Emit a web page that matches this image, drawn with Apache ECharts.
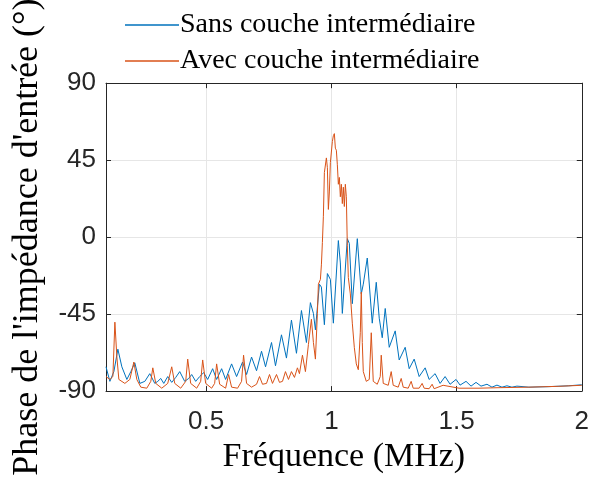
<!DOCTYPE html>
<html>
<head>
<meta charset="utf-8">
<script src="https://cdn.jsdelivr.net/npm/echarts@6/dist/echarts.min.js"></script>
<style>
html,body{margin:0;padding:0;background:#fff;}
#c{width:592px;height:479px;}
</style>
</head>
<body>
<div id="c"></div>
<script>
// Series names
const seriesNames = ['Sans couche intermédiaire', 'Avec couche intermédiaire'];
// Axis ticks
const xTicks = [0.5, 1, 1.5, 2];
const yTicks = [-90, -45, 0, 45, 90];

// Sans couche intermédiaire: frequency (MHz)
const blueFreq = [0.100,0.1155,0.1315,0.1474,0.1633,0.1833,0.1992,0.2151,0.2351,0.2550,0.2749,0.2948,0.3068,0.3187,0.3307,0.3466,0.3625,0.3785,0.3944,0.4143,0.4303,0.4422,0.4582,0.4741,0.4900,0.5060,0.5259,0.5418,0.5618,0.5777,0.6016,0.6215,0.6454,0.6614,0.6813,0.7012,0.7211,0.7371,0.7610,0.7769,0.8008,0.8207,0.8406,0.8606,0.8805,0.9004,0.9163,0.9283,0.9363,0.9522,0.9602,0.9721,0.9841,0.9960,1.0080,1.0279,1.0359,1.0438,1.0637,1.0717,1.0837,1.1036,1.1195,1.1275,1.1434,1.1633,1.1793,1.1912,1.2032,1.2151,1.2311,1.2550,1.2709,1.2948,1.3108,1.3307,1.3506,1.3745,1.3904,1.4143,1.4343,1.4542,1.4741,1.4980,1.5139,1.5378,1.5578,1.5777,1.5976,1.6215,1.6414,1.6614,1.6813,1.7012,1.7211,1.7410,1.7888,1.8685,1.9482,2.0];
// Sans couche intermédiaire: phase (deg)
const bluePhase = [-75.8,-84.3,-78.6,-65.5,-75.8,-83.2,-78.6,-73.5,-85.5,-84.3,-79.8,-85.5,-84.3,-82.6,-85.5,-81.5,-84.9,-82.0,-78.6,-84.3,-82.6,-80.3,-84.3,-81.5,-79.2,-83.2,-76.9,-83.2,-76.9,-83.2,-74.1,-81.5,-73.0,-80.3,-70.1,-78.1,-66.7,-75.8,-61.6,-75.2,-57.1,-70.7,-48.5,-67.9,-42.9,-61.6,-38.3,-44.6,-54.2,-27.5,-29.2,-51.2,-21.3,-24.7,-50.3,-2.0,-15.1,-44.6,-0.9,-3.7,-38.9,-0.9,-33.2,-27.5,-12.2,-50.3,-26.4,-47.4,-58.8,-41.7,-64.4,-54.8,-71.8,-64.4,-76.9,-71.3,-81.5,-76.4,-83.2,-79.8,-85.5,-81.5,-86.0,-83.2,-86.5,-84.3,-87.1,-84.9,-87.1,-86.0,-87.7,-86.5,-87.7,-86.9,-87.7,-87.1,-87.7,-87.4,-86.9,-86.3];

// Avec couche intermédiaire: frequency (MHz)
const orangeFreq = [0.100,0.1155,0.1275,0.1355,0.1434,0.1514,0.1753,0.1952,0.2112,0.2231,0.2390,0.2629,0.2789,0.2869,0.2988,0.3227,0.3466,0.3625,0.3745,0.3984,0.4183,0.4263,0.4382,0.4622,0.4781,0.4861,0.4980,0.5219,0.5339,0.5418,0.5538,0.5777,0.5896,0.6016,0.6255,0.6414,0.6494,0.6614,0.6813,0.7012,0.7131,0.7251,0.7410,0.7530,0.7649,0.7809,0.7928,0.8048,0.8167,0.8287,0.8406,0.8526,0.8645,0.8725,0.8845,0.8964,0.9084,0.9203,0.9283,0.9363,0.9442,0.9482,0.9562,0.9602,0.9641,0.9681,0.9721,0.9801,0.9841,0.9880,0.9920,0.9960,1.0040,1.0080,1.0120,1.0159,1.0199,1.0239,1.0279,1.0319,1.0359,1.0398,1.0438,1.0478,1.0518,1.0558,1.0598,1.0637,1.0677,1.0757,1.0837,1.0916,1.0996,1.1076,1.1155,1.1195,1.1235,1.1275,1.1394,1.1514,1.1594,1.1673,1.1833,1.1952,1.1992,1.2072,1.2271,1.2390,1.2470,1.2669,1.2789,1.2869,1.3068,1.3187,1.3267,1.3506,1.3625,1.3705,1.3904,1.4024,1.4104,1.4462,1.5100,1.5896,1.6693,1.7888,1.9084,2.0];
// Avec couche intermédiaire: phase (deg)
const orangePhase = [-81.5,-83.2,-81.5,-49.7,-70.1,-83.2,-85.5,-83.2,-73.0,-83.2,-87.7,-88.3,-84.3,-76.4,-85.5,-88.3,-85.5,-75.8,-85.5,-88.3,-84.3,-71.3,-85.5,-88.3,-84.3,-71.8,-85.5,-88.3,-85.5,-74.1,-86.0,-88.3,-80.3,-87.7,-88.3,-84.3,-69.0,-85.5,-87.7,-86.0,-81.5,-86.0,-85.5,-80.3,-85.5,-80.3,-84.9,-84.3,-78.6,-83.2,-78.6,-82.0,-76.4,-79.8,-69.0,-78.6,-62.7,-48.0,-61.6,-71.3,-44.6,-27.5,-24.7,-16.2,-3.1,12.2,37.8,46.3,40.6,16.2,26.4,43.5,55.9,59.3,60.5,52.0,50.8,42.3,30.9,34.9,23.6,30.9,19.6,29.2,17.9,30.9,23.6,-4.8,-23.6,-33.2,-50.3,-64.4,-74.1,-77.5,-55.9,-32.1,-61.6,-78.6,-84.3,-83.2,-55.9,-84.3,-86.0,-81.5,-69.0,-85.5,-86.6,-78.6,-86.6,-87.7,-82.6,-87.7,-88.3,-84.3,-88.3,-88.3,-85.5,-88.3,-88.6,-86.0,-88.6,-86.6,-88.3,-88.3,-88.0,-87.7,-87.2,-86.6];

const blueData = blueFreq.map((f, i) => [f, bluePhase[i]]);
const orangeData = orangeFreq.map((f, i) => [f, orangePhase[i]]);

const axisColor = '#262626';
const serif = '"Liberation Serif", "DejaVu Serif", serif';
const sans = '"Liberation Sans", Arial, sans-serif';

const chart = echarts.init(document.getElementById('c'), null, {renderer: 'canvas'});
chart.setOption({
  animation: false,
  backgroundColor: '#fff',
  grid: {left: 106, right: 9, top: 82, bottom: 79, containLabel: false},
  legend: {
    orient: 'vertical',
    left: 120, top: 6,
    itemWidth: 54, itemHeight: 1.5, itemGap: 8,
    icon: 'rect',
    textStyle: {fontFamily: serif, fontSize: 28, color: '#000', padding: [0,0,0,-4]},
    data: seriesNames
  },
  xAxis: [{
    type: 'value', min: 0.1, max: 2, splitNumber: 4,
    name: 'Fréquence (MHz)', nameLocation: 'middle', nameGap: 48,
    nameTextStyle: {fontFamily: serif, fontSize: 34, color: '#000'},
    axisLine: {show: true, onZero: false, lineStyle: {color: axisColor, width: 1}},
    axisTick: {show: true, inside: true, length: 5, lineStyle: {color: axisColor}},
    axisLabel: {fontFamily: sans, fontSize: 26, color: axisColor, margin: 18, showMinLabel: false,
      formatter: v => (xTicks.indexOf(Math.round(v*100)/100) >= 0 ? String(v) : '')},
    splitLine: {show: true, lineStyle: {color: '#e6e6e6', width: 1}}
  }, {
    type: 'value', min: 0.1, max: 2, splitNumber: 4, position: 'top',
    axisLine: {show: true, onZero: false, lineStyle: {color: axisColor, width: 1}},
    axisTick: {show: true, inside: true, length: 5, lineStyle: {color: axisColor}},
    axisLabel: {show: false}, splitLine: {show: false}
  }],
  yAxis: [{
    type: 'value', min: -90, max: 90, interval: 45,
    name: "Phase de l'impédance d'entrée (°)", nameLocation: 'middle', nameGap: 60, nameRotate: 90,
    nameTextStyle: {fontFamily: serif, fontSize: 36, color: '#000'},
    axisLine: {show: true, onZero: false, lineStyle: {color: axisColor, width: 1}},
    axisTick: {show: true, inside: true, length: 5, lineStyle: {color: axisColor}},
    axisLabel: {fontFamily: sans, fontSize: 26, color: axisColor, margin: 10,
      formatter: v => (yTicks.indexOf(v) >= 0 ? String(v) : '')},
    splitLine: {show: true, lineStyle: {color: '#e6e6e6', width: 1}}
  }, {
    type: 'value', min: -90, max: 90, interval: 45, position: 'right',
    axisLine: {show: true, onZero: false, lineStyle: {color: axisColor, width: 1}},
    axisTick: {show: true, inside: true, length: 5, lineStyle: {color: axisColor}},
    axisLabel: {show: false}, splitLine: {show: false}
  }],
  series: [{
    name: seriesNames[0], type: 'line', data: blueData, showSymbol: false, symbol: 'none',
    lineStyle: {color: '#0072BD', width: 1}, itemStyle: {color: '#0072BD'}, z: 3
  }, {
    name: seriesNames[1], type: 'line', data: orangeData, showSymbol: false, symbol: 'none',
    lineStyle: {color: '#D95319', width: 1}, itemStyle: {color: '#D95319'}, z: 4
  }]
});
</script>
</body>
</html>
